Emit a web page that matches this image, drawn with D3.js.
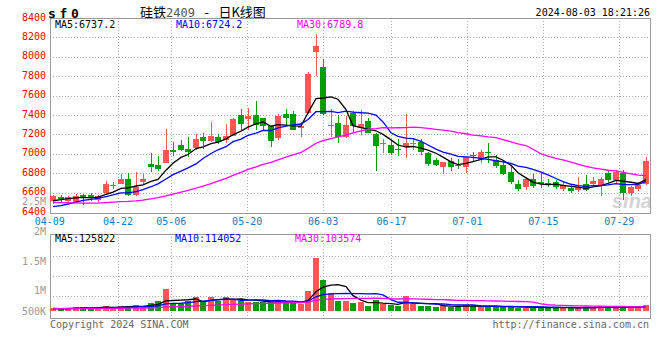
<!DOCTYPE html>
<html><head><meta charset="utf-8">
<script src="https://cdn.jsdelivr.net/npm/d3@7"></script>
<style>body{margin:0;background:#fff}svg{display:block}text{white-space:pre}</style>
</head><body><svg id="c" width="660" height="360"></svg>
<script>
// ---------------- DATA ----------------
const dates = [
"04-09","04-10","04-11","04-12","04-15","04-16","04-17","04-18","04-19","04-22","04-23","04-24","04-25","04-26","04-29","04-30",
"05-06","05-07","05-08","05-09","05-10","05-13","05-14","05-15","05-16","05-17","05-20","05-21","05-22","05-23","05-24","05-27","05-28","05-29","05-30","05-31",
"06-03","06-04","06-05","06-06","06-07","06-11","06-12","06-13","06-14","06-17","06-18","06-19","06-20","06-21","06-24","06-25","06-26","06-27","06-28",
"07-01","07-02","07-03","07-04","07-05","07-08","07-09","07-10","07-11","07-12","07-15","07-16","07-17","07-18","07-19","07-22","07-23","07-24","07-25","07-26","07-29","07-30","07-31",
"08-01","08-02"];
const opens = [6505,6550,6505,6505,6580,6575,6525,6600,6670,6690,6740,6575,6715,6895,6885,6910,7040,7095,7050,7055,
7170,7135,7172,7142,7185,7400,7355,7400,7368,7290,7165,7413,7410,7258,7425,8050,7890,7287,7313,7176,
7416,7262,7337,7203,7093,7090,7049,7073,7100,7124,7011,6936,6856,6929,6888,6856,6987,6943,7015,6936,
6884,6815,6688,6661,6737,6709,6695,6709,6637,6644,6619,6692,6688,6668,6798,6730,6798,6593,6640,6690];
const highs = [6575,6580,6570,6590,6590,6600,6580,6720,6705,6790,6800,6810,6790,7010,6980,7255,7120,7145,7175,7200,
7210,7330,7200,7305,7370,7460,7475,7545,7370,7290,7415,7465,7440,7323,7840,8240,7975,7460,7400,7390,
7445,7450,7365,7210,7150,7140,7150,7410,7160,7150,7021,6960,6920,6960,6950,6970,7020,7040,7107,6990,
6935,6860,6735,6765,6790,6805,6745,6730,6710,6680,6765,6780,6760,6765,6830,6830,6830,6670,6710,6970];
const lows = [6480,6505,6490,6490,6475,6510,6505,6590,6640,6685,6560,6570,6690,6815,6825,6905,6975,7030,6970,7040,
7045,7125,7100,7115,7180,7245,7245,7245,7230,7075,7140,7295,7245,7178,7410,7805,7400,7175,7115,7160,
7210,7195,7210,6822,7010,6990,6977,6953,7040,6990,6879,6875,6792,6825,6840,6805,6925,6910,6910,6850,
6780,6688,6615,6627,6650,6645,6660,6640,6620,6600,6609,6615,6670,6560,6710,6700,6525,6560,6620,6680];
const closes = [6560,6525,6550,6565,6550,6540,6565,6690,6680,6740,6570,6660,6745,6865,6845,7040,7020,7045,7015,7150,
7125,7185,7125,7186,7360,7310,7390,7295,7290,7135,7390,7370,7250,7282,7825,8115,7405,7302,7165,7296,
7286,7306,7217,7083,7107,7004,7042,7114,7110,7021,6901,6884,6912,6867,6878,6963,6977,7021,7004,6877,
6791,6712,6637,6740,6661,6690,6688,6654,6678,6609,6654,6627,6723,6743,6730,6810,6590,6660,6680,6930];
const volumes = [184000,167000,184000,217000,217000,176000,217000,242000,201000,242000,217000,267000,242000,317000,367000,667000,309000,284000,367000,467000,
334000,467000,367000,467000,417000,367000,350000,350000,334000,334000,367000,317000,317000,292000,617000,1450000,892000,559000,367000,367000,
317000,334000,242000,384000,284000,267000,242000,500000,292000,242000,242000,225000,267000,225000,225000,267000,242000,225000,225000,225000,
225000,225000,200000,200000,200000,225000,184000,200000,200000,200000,200000,200000,200000,250000,225000,184000,250000,200000,225000,267000];
// closes / volumes of the sessions before 04-09 (estimated, only feed the moving averages)
const priorCloses = [6620,6600,6580,6610,6570,6560,6540,6530,6550,6520,6500,6510,6480,6490,6470,6460,6480,6470,6450,6450,
6420,6380,6360,6390,6420,6470,6500,6520,6530];
const priorVolumes = [175000,190000,168000,182000,160000,195000,170000,185000,178000,165000,172000,188000,176000,181000,169000,174000,186000,171000,179000,163000,
184000,177000,170000,189000,166000,180000,173000,187000,175000];
const priceTicks = [6400,6600,6800,7000,7200,7400,7600,7800,8000,8200,8400];
const volTicks = [500000,1000000,1500000];
const volTickLabels = ["500K","1M","1.5M","2M"];
const dateTicks = ["04-09","04-22","05-06","05-20","06-03","06-17","07-01","07-15","07-29"];
const maPeriods = [5,10,30];
const priceMALabels = ["MA5:6737.2","MA10:6724.2","MA30:6789.8"];
const volMALabels = ["MA5:125822","MA10:114052","MA30:103574"];
const titleMain = "硅铁", titleCode = "2409", titleTail = "日K线图";
const symbolChars = ["s","f","0"];
const stamp = "2024-08-03 18:21:26";

// ---------------- LAYOUT ----------------
const L = 50, R = 650, PT = 18, PB = 212.5, VT = 234, VB = 318;
const maColors = ["#000000","#0000ff","#ff00ff"];
const RED = "#ff5555", GREEN = "#009e00";
const mono = "'DejaVu Sans Mono', monospace";
const volBase = 117500;

const svg = d3.select("#c");
const x = d3.scaleBand().domain(dates).range([L, 649]).paddingInner(0.2).paddingOuter(0);
const xg = d3.scalePoint().domain(dates).range([49.7, 649.7]);
const y = d3.scaleLinear().domain([6400, 8400]).range([212, 18]);
const yv = d3.scaleLinear().domain([0, 2000000]).range([315.7, 235.7]);
const bw = Math.round(x.bandwidth());
const cx = d => Math.round(x(d)) + bw / 2;

function ma(prior, vals, n) {
  const all = prior.concat(vals), off = prior.length;
  return vals.map((v, i) => d3.mean(all.slice(off + i - n + 1, off + i + 1)));
}

// header
symbolChars.forEach((c, i) => svg.append("text").attr("x", 48 + i * 11.5).attr("y", 17.5)
  .attr("font-family", mono).attr("font-weight", "bold").attr("font-size", 13).text(c));
const tt = svg.append("text").attr("x", 140).attr("y", 17).attr("font-family", "'Noto Sans CJK SC'").attr("font-size", 13).attr("fill", "#000");
tt.append("tspan").text(titleMain);
tt.append("tspan").attr("font-family", mono).attr("font-size", 12).attr("fill", "#555").text(titleCode);
tt.append("tspan").attr("font-family", mono).attr("font-size", 13).text("\u00a0-\u00a0");
tt.append("tspan").text(titleTail);
svg.append("text").attr("x", 650).attr("y", 16).attr("text-anchor", "end").attr("font-family", mono)
  .attr("font-size", 10).text(stamp);

// watermark
svg.append("text").attr("x", 652).attr("y", 208).attr("text-anchor", "end")
  .attr("font-family", "'Liberation Sans', Arial").attr("font-style", "italic").attr("font-weight", "bold")
  .attr("font-size", 20).attr("fill", "#d4d4d4").text("sina");

// grids
const g = svg.append("g").attr("shape-rendering", "crispEdges");
g.selectAll(".hg").data(priceTicks.filter(t => t > 6400 && t < 8400)).join("line")
  .attr("x1", L).attr("x2", R).attr("y1", d => Math.round(y(d)) + 0.5).attr("y2", d => Math.round(y(d)) + 0.5)
  .attr("stroke", "#aaa").attr("stroke-dasharray", "1,2");
g.selectAll(".vg").data(dateTicks.slice(1)).join("line")
  .attr("x1", d => Math.round(xg(d)) + 0.5).attr("x2", d => Math.round(xg(d)) + 0.5)
  .attr("y1", PT).attr("y2", PB).attr("stroke", "#aaa").attr("stroke-dasharray", "1,2");
g.selectAll(".vhg").data(volTicks).join("line")
  .attr("x1", L).attr("x2", R).attr("y1", d => Math.round(yv(d)) + 0.5).attr("y2", d => Math.round(yv(d)) + 0.5)
  .attr("stroke", "#aaa").attr("stroke-dasharray", "1,2");
g.selectAll(".vvg").data(dateTicks.slice(1)).join("line")
  .attr("x1", d => Math.round(xg(d)) + 0.5).attr("x2", d => Math.round(xg(d)) + 0.5)
  .attr("y1", VT).attr("y2", VB + 3).attr("stroke", "#aaa").attr("stroke-dasharray", "1,2");

// panel borders
g.append("rect").attr("x", L + 0.5).attr("y", PT + 0.5).attr("width", R - L).attr("height", PB - PT)
  .attr("fill", "none").attr("stroke", "#999");
g.append("rect").attr("x", L + 0.5).attr("y", VT + 0.5).attr("width", R - L).attr("height", VB - VT)
  .attr("fill", "none").attr("stroke", "#999");

// price axis labels
svg.selectAll(".pl").data(priceTicks).join("text")
  .attr("x", 46).attr("y", d => y(d) - 1).attr("dominant-baseline", "central").attr("text-anchor", "end")
  .attr("font-family", mono).attr("font-size", 10).attr("fill", "#ee0000").text(d => d);
svg.append("text").attr("x", 46).attr("y", 201).attr("dominant-baseline", "central").attr("text-anchor", "end")
  .attr("font-family", mono).attr("font-size", 10).attr("fill", "#999").text("2.5M");

// volume axis labels (as placed by the source chart)
const volLabelY = [311, 290.5, 261, 231];
svg.selectAll(".vl").data(volTickLabels).join("text")
  .attr("x", 46).attr("y", (d, i) => volLabelY[i]).attr("dominant-baseline", "central").attr("text-anchor", "end")
  .attr("font-family", mono).attr("font-size", 10).attr("fill", "#999").text(d => d);

// date labels
svg.selectAll(".dl").data(dateTicks).join("text")
  .attr("x", d => xg(d)).attr("y", 221.5).attr("dominant-baseline", "central").attr("text-anchor", "middle")
  .attr("font-family", mono).attr("font-size", 10).attr("fill", "#0a7ccc").text(d => d);

// candles
const cg = svg.append("g").attr("shape-rendering", "crispEdges");
const idx = d3.range(dates.length);
const col = i => closes[i] >= opens[i] ? RED : GREEN;
cg.selectAll(".wk").data(idx).join("line")
  .attr("x1", i => Math.round(x(dates[i])) + 3.5).attr("x2", i => Math.round(x(dates[i])) + 3.5)
  .attr("y1", i => y(highs[i])).attr("y2", i => y(lows[i])).attr("stroke", col);
cg.selectAll(".bd").data(idx).join("rect")
  .attr("x", i => Math.round(x(dates[i]))).attr("width", bw)
  .attr("y", i => Math.round(y(Math.max(opens[i], closes[i]))))
  .attr("height", i => Math.max(1, Math.round(Math.abs(y(opens[i]) - y(closes[i])))))
  .attr("fill", col);

// price MAs
const line = d3.line().x((d, i) => cx(dates[i])).y(d => d);
maPeriods.forEach((n, k) => {
  const m = ma(priorCloses, closes, n);
  svg.append("path").attr("d", line(m.map(v => y(v)))).attr("fill", "none")
    .attr("stroke", maColors[k]).attr("stroke-width", 1.3);
});

// volume bars
cg.selectAll(".vb").data(idx).join("rect")
  .attr("x", i => Math.round(x(dates[i]))).attr("width", bw)
  .attr("y", i => Math.round(yv(volumes[i])))
  .attr("height", i => Math.round(yv(volBase)) - Math.round(yv(volumes[i])))
  .attr("fill", col);

// volume MAs
maPeriods.forEach((n, k) => {
  const m = ma(priorVolumes, volumes, n);
  svg.append("path").attr("d", line(m.map(v => yv(v)))).attr("fill", "none")
    .attr("stroke", maColors[k]).attr("stroke-width", 1.3);
});

// legends
const pLX = [55, 176, 297], vLX = [55, 175, 295];
priceMALabels.forEach((t, k) => svg.append("text").attr("x", pLX[k]).attr("y", 24)
  .attr("dominant-baseline", "central").attr("font-family", mono).attr("font-size", 10).attr("fill", maColors[k]).text(t));
volMALabels.forEach((t, k) => svg.append("text").attr("x", vLX[k]).attr("y", 238.5)
  .attr("dominant-baseline", "central").attr("font-family", mono).attr("font-size", 10).attr("fill", maColors[k]).text(t));

// footer
svg.append("text").attr("x", 50).attr("y", 324).attr("dominant-baseline", "central")
  .attr("font-family", mono).attr("font-size", 10).attr("fill", "#666").text("Copyright 2024 SINA.COM");
svg.append("text").attr("x", 649).attr("y", 324).attr("dominant-baseline", "central").attr("text-anchor", "end")
  .attr("font-family", mono).attr("font-size", 10).attr("fill", "#666").text("http://finance.sina.com.cn");
</script></body></html>
